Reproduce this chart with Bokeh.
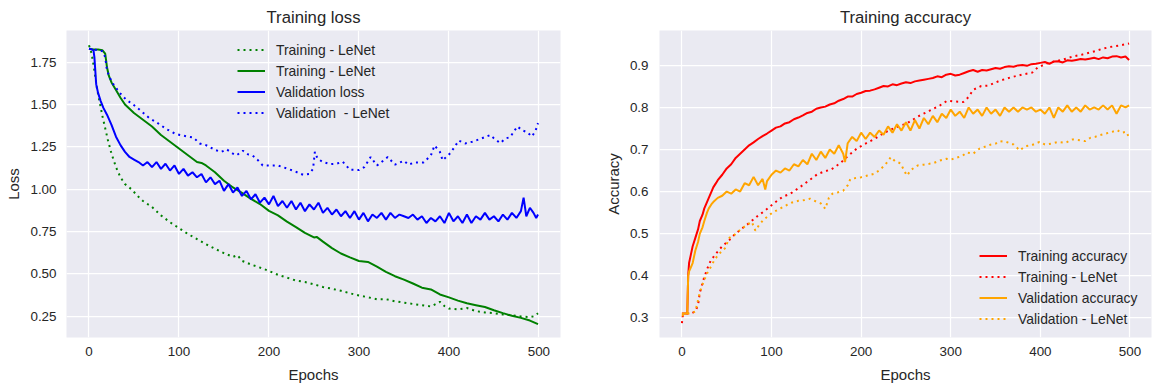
from bokeh.plotting import figure
from bokeh.layouts import row
from bokeh.models import Legend, LegendItem, Range1d, FixedTicker, PrintfTickFormatter
from bokeh.embed import file_html
from bokeh.resources import INLINE

# ---------------- data ----------------
# Left panel: loss
train_lenet_loss_ep = [0, 3, 6, 9, 12, 15, 18, 21, 25, 30, 35, 40, 47, 55, 60, 70, 80, 90, 100, 110, 120, 130,
                       140, 150, 160, 165, 170, 180, 190, 200, 210, 220, 230, 240, 250, 260, 270, 280, 290, 300,
                       310, 320, 330, 340, 350, 360, 370, 380, 390, 395, 400, 410, 420, 430, 440, 450, 460, 470,
                       480, 490, 495, 499]
train_lenet_loss = [1.85, 1.80, 1.70, 1.59, 1.51, 1.43, 1.36, 1.29, 1.21, 1.13, 1.07, 1.03, 1.00, 0.955, 0.93,
                    0.895, 0.845, 0.805, 0.77, 0.735, 0.705, 0.675, 0.648, 0.622, 0.60, 0.61, 0.577, 0.555, 0.537,
                    0.517, 0.494, 0.478, 0.46, 0.452, 0.438, 0.422, 0.412, 0.40, 0.385, 0.372, 0.362, 0.35, 0.35,
                    0.338, 0.33, 0.322, 0.315, 0.307, 0.335, 0.31, 0.295, 0.29, 0.298, 0.28, 0.272, 0.268, 0.26,
                    0.255, 0.248, 0.244, 0.25, 0.267]

train_loss_ep = [0, 5, 10, 15, 18, 20, 22, 25, 30, 35, 40, 50, 60, 70, 80, 90, 100, 110, 120, 125, 130, 140, 150,
                 160, 170, 180, 190, 200, 210, 220, 230, 240, 250, 253, 260, 270, 280, 290, 300, 310, 320, 330,
                 340, 350, 360, 370, 380, 390, 400, 410, 420, 430, 440, 450, 460, 470, 480, 490, 499]
train_loss = [1.83, 1.825, 1.825, 1.82, 1.80, 1.72, 1.67, 1.63, 1.585, 1.54, 1.50, 1.45, 1.41, 1.37, 1.32, 1.28,
              1.24, 1.20, 1.16, 1.155, 1.14, 1.10, 1.05, 1.01, 0.978, 0.943, 0.912, 0.872, 0.845, 0.808, 0.776,
              0.742, 0.715, 0.718, 0.69, 0.652, 0.62, 0.597, 0.576, 0.57, 0.542, 0.512, 0.486, 0.466, 0.443,
              0.418, 0.408, 0.378, 0.361, 0.342, 0.326, 0.315, 0.304, 0.285, 0.268, 0.252, 0.24, 0.224, 0.203]

val_loss_ep = [0, 3, 5, 6, 7, 8, 10, 13, 16, 20, 25, 30, 35, 40, 45, 50, 55, 60, 65, 70, 75, 80, 85, 90, 95, 100,
               105, 110, 115, 120, 125, 130, 135, 140, 145, 150, 155, 160, 165, 170, 175, 180, 185, 190, 195, 200,
               205, 210, 215, 220, 225, 230, 235, 240, 245, 250, 255, 260, 265, 270, 275, 280, 285, 290, 295, 300,
               305, 310, 315, 320, 325, 330, 335, 340, 345, 350, 355, 360, 365, 370, 375, 380, 385, 390, 395, 400,
               405, 410, 415, 420, 425, 430, 435, 440, 445, 450, 455, 460, 465, 470, 475, 480, 483, 486, 490, 494,
               497, 499]
val_loss = [1.83, 1.825, 1.82, 1.78, 1.70, 1.62, 1.57, 1.52, 1.48, 1.44, 1.38, 1.31, 1.26, 1.22, 1.19, 1.175,
            1.16, 1.14, 1.16, 1.13, 1.16, 1.12, 1.15, 1.11, 1.14, 1.09, 1.12, 1.08, 1.10, 1.07, 1.09, 1.04, 1.07,
            1.03, 1.05, 0.99, 1.03, 0.98, 1.01, 0.96, 0.99, 0.94, 0.97, 0.92, 0.95, 0.91, 0.96, 0.90, 0.93, 0.89,
            0.93, 0.88, 0.92, 0.87, 0.91, 0.88, 0.92, 0.86, 0.89, 0.85, 0.88, 0.84, 0.87, 0.83, 0.87, 0.82, 0.86,
            0.81, 0.85, 0.83, 0.86, 0.82, 0.86, 0.83, 0.85, 0.84, 0.83, 0.85, 0.82, 0.84, 0.80, 0.83, 0.81, 0.84,
            0.80, 0.86, 0.81, 0.84, 0.80, 0.85, 0.80, 0.84, 0.82, 0.86, 0.82, 0.84, 0.81, 0.85, 0.82, 0.86, 0.83,
            0.87, 0.95, 0.84, 0.89, 0.86, 0.83, 0.85]

val_lenet_loss_ep = [0, 5, 10, 15, 18, 20, 23, 27, 34, 41, 49, 56, 67, 75, 86, 95, 101, 110, 116, 123, 130, 141,
                     147, 153, 160, 164, 171, 177, 182, 188, 193, 204, 210, 216, 227, 238, 245, 249, 251, 254, 260,
                     268, 275, 282, 290, 300, 306, 313, 320, 325, 332, 340, 350, 355, 362, 372, 380, 384, 390, 393,
                     402, 411, 418, 426, 435, 446, 450, 457, 463, 468, 476, 482, 487, 492, 496, 499]
val_lenet_loss = [1.83, 1.825, 1.82, 1.815, 1.78, 1.70, 1.66, 1.62, 1.57, 1.53, 1.50, 1.47, 1.42, 1.395, 1.355,
                  1.33, 1.32, 1.31, 1.305, 1.27, 1.26, 1.23, 1.22, 1.235, 1.21, 1.20, 1.227, 1.205, 1.198, 1.17,
                  1.14, 1.139, 1.14, 1.129, 1.109, 1.085, 1.09, 1.12, 1.22, 1.18, 1.16, 1.148, 1.15, 1.162, 1.115,
                  1.113, 1.13, 1.19, 1.14, 1.16, 1.19, 1.145, 1.168, 1.145, 1.158, 1.158, 1.20, 1.258, 1.22, 1.17,
                  1.215, 1.287, 1.27, 1.28, 1.297, 1.32, 1.30, 1.272, 1.30, 1.307, 1.37, 1.346, 1.337, 1.311,
                  1.34, 1.39]

# Right panel: accuracy
train_acc_ep = [0, 3, 6, 7, 8, 10, 12, 15, 18, 20, 23, 25, 28, 30, 33, 35, 38, 40, 45, 50, 55, 60, 65, 70, 75, 80,
                85, 90, 95, 100, 105, 110, 115, 120, 125, 130, 135, 140, 145, 150, 155, 160, 165, 170, 175, 180,
                185, 190, 195, 200, 205, 210, 215, 220, 225, 230, 235, 240, 245, 250, 255, 260, 265, 270, 275, 280,
                285, 290, 295, 300, 305, 310, 315, 320, 325, 330, 335, 340, 345, 350, 355, 360, 365, 370, 375, 380,
                385, 390, 395, 400, 405, 410, 415, 420, 425, 430, 435, 440, 445, 450, 455, 460, 465, 470, 475, 480,
                485, 490, 495, 499]
train_acc = [0.31, 0.31, 0.31, 0.40, 0.43, 0.45, 0.47, 0.49, 0.51, 0.53, 0.545, 0.56, 0.575, 0.585, 0.60, 0.61,
             0.62, 0.627, 0.64, 0.655, 0.665, 0.68, 0.69, 0.70, 0.71, 0.717, 0.725, 0.732, 0.738, 0.745, 0.752,
             0.755, 0.762, 0.765, 0.772, 0.776, 0.781, 0.787, 0.79, 0.797, 0.80, 0.802, 0.807, 0.81, 0.816, 0.82,
             0.826, 0.826, 0.832, 0.835, 0.839, 0.84, 0.843, 0.847, 0.851, 0.85, 0.855, 0.853, 0.857, 0.86, 0.858,
             0.862, 0.864, 0.866, 0.868, 0.87, 0.874, 0.872, 0.878, 0.88, 0.876, 0.878, 0.882, 0.886, 0.889, 0.885,
             0.889, 0.888, 0.891, 0.894, 0.892, 0.896, 0.898, 0.897, 0.90, 0.901, 0.899, 0.903, 0.904, 0.906, 0.908,
             0.904, 0.909, 0.91, 0.907, 0.912, 0.911, 0.913, 0.915, 0.914, 0.916, 0.918, 0.915, 0.919, 0.917, 0.921,
             0.922, 0.919, 0.921, 0.913]

train_lenet_acc_ep = [0, 1, 5, 10, 15, 18, 20, 24, 28, 32, 37, 45, 53, 58, 65, 75, 85, 93, 102, 112, 121, 132, 141,
                      151, 158, 167, 177, 186, 195, 203, 214, 226, 238, 251, 263, 276, 288, 296, 305, 314, 320, 325,
                      334, 342, 354, 366, 379, 391, 397, 410, 424, 436, 447, 458, 470, 481, 490, 499]
train_lenet_acc = [0.287, 0.305, 0.31, 0.31, 0.315, 0.33, 0.36, 0.39, 0.415, 0.435, 0.45, 0.47, 0.485, 0.496,
                   0.509, 0.525, 0.543, 0.555, 0.571, 0.587, 0.595, 0.611, 0.625, 0.641, 0.647, 0.653, 0.668,
                   0.686, 0.702, 0.712, 0.724, 0.74, 0.752, 0.762, 0.778, 0.792, 0.805, 0.816, 0.814, 0.813, 0.825,
                   0.842, 0.851, 0.852, 0.863, 0.871, 0.878, 0.883, 0.895, 0.907, 0.913, 0.921, 0.926, 0.932, 0.94,
                   0.945, 0.948, 0.952]

val_acc_ep = [0, 3, 6, 7, 8, 10, 12, 15, 18, 20, 23, 25, 28, 30, 33, 35, 40, 45, 50, 55, 60, 65, 70, 75, 80, 85, 90,
              93, 95, 100, 105, 110, 115, 120, 125, 130, 135, 140, 145, 150, 155, 160, 165, 170, 175, 180, 182, 185,
              190, 195, 200, 205, 210, 215, 220, 225, 230, 235, 240, 245, 250, 255, 260, 265, 270, 275, 280, 285,
              290, 295, 300, 305, 310, 315, 320, 325, 330, 335, 340, 345, 350, 355, 360, 365, 370, 375, 380, 385,
              390, 395, 400, 405, 410, 415, 420, 425, 430, 435, 440, 445, 450, 455, 460, 465, 470, 475, 480, 485,
              490, 495, 499]
val_acc = [0.31, 0.31, 0.31, 0.40, 0.41, 0.42, 0.43, 0.46, 0.48, 0.50, 0.515, 0.53, 0.55, 0.56, 0.57, 0.575, 0.585,
           0.59, 0.60, 0.595, 0.605, 0.60, 0.62, 0.615, 0.635, 0.615, 0.63, 0.605, 0.625, 0.64, 0.65, 0.645, 0.655,
           0.65, 0.665, 0.66, 0.675, 0.665, 0.69, 0.675, 0.695, 0.68, 0.70, 0.69, 0.71, 0.69, 0.67, 0.715, 0.73,
           0.72, 0.74, 0.725, 0.74, 0.73, 0.745, 0.735, 0.755, 0.74, 0.76, 0.745, 0.765, 0.745, 0.77, 0.75, 0.775,
           0.76, 0.78, 0.765, 0.785, 0.775, 0.795, 0.78, 0.79, 0.775, 0.80, 0.785, 0.795, 0.78, 0.80, 0.785, 0.795,
           0.78, 0.80, 0.79, 0.80, 0.79, 0.80, 0.795, 0.80, 0.79, 0.795, 0.785, 0.80, 0.775, 0.80, 0.79, 0.805,
           0.79, 0.80, 0.79, 0.805, 0.795, 0.80, 0.795, 0.805, 0.795, 0.805, 0.785, 0.805, 0.80, 0.805]

val_lenet_acc_ep = [0, 5, 10, 15, 17, 20, 24, 28, 32, 37, 43, 48, 53, 58, 65, 72, 78, 82, 86, 91, 98, 102, 110, 117,
                    123, 130, 137, 143, 150, 155, 160, 164, 168, 174, 180, 185, 188, 194, 200, 207, 214, 220, 225,
                    230, 233, 238, 244, 248, 251, 256, 263, 270, 276, 281, 288, 295, 300, 306, 313, 318, 325, 332,
                    340, 345, 350, 355, 362, 370, 377, 383, 390, 399, 405, 412, 420, 428, 436, 444, 450, 456, 461,
                    466, 473, 480, 486, 490, 496, 499]
val_lenet_acc = [0.305, 0.31, 0.31, 0.315, 0.333, 0.36, 0.385, 0.405, 0.42, 0.44, 0.455, 0.465, 0.49, 0.496, 0.509,
                 0.52, 0.528, 0.507, 0.52, 0.533, 0.545, 0.551, 0.56, 0.568, 0.574, 0.578, 0.58, 0.583, 0.576, 0.572,
                 0.559, 0.585, 0.595, 0.598, 0.602, 0.615, 0.63, 0.632, 0.634, 0.638, 0.642, 0.65, 0.66, 0.672,
                 0.682, 0.672, 0.667, 0.65, 0.638, 0.652, 0.662, 0.664, 0.666, 0.668, 0.674, 0.678, 0.676, 0.68,
                 0.685, 0.693, 0.69, 0.702, 0.708, 0.712, 0.714, 0.72, 0.718, 0.712, 0.698, 0.708, 0.71, 0.718,
                 0.712, 0.714, 0.718, 0.716, 0.724, 0.722, 0.72, 0.728, 0.73, 0.734, 0.738, 0.742, 0.746, 0.74,
                 0.742, 0.728]

x_ticks = [0, 100, 200, 300, 400, 500]
loss_ticks = [0.25, 0.5, 0.75, 1.0, 1.25, 1.5, 1.75]
acc_ticks = [0.3, 0.4, 0.5, 0.6, 0.7, 0.8, 0.9]

# ---------------- styling ----------------
FONT = "Liberation Sans"
TXT = "#262626"
BG = "#EAEAF2"
LW = 2
DOT = "2 4"
H = 391


def make_fig(title, width, left, right, yr, yticks, yfmt, ylabel):
    p = figure(width=width, height=H, output_backend="svg", toolbar_location=None,
               x_range=Range1d(-25, 524), y_range=Range1d(*yr),
               min_border_left=left, min_border_right=right, min_border_top=30, min_border_bottom=H - 337)
    p.background_fill_color = BG
    p.border_fill_color = "white"
    p.outline_line_color = None
    p.title.text = title
    p.title.align = "center"
    p.title.text_font = FONT
    p.title.text_font_size = "16.7px"
    p.title.text_font_style = "normal"
    p.title.text_color = TXT
    p.title.standoff = 8
    p.xaxis.ticker = FixedTicker(ticks=x_ticks)
    p.yaxis.ticker = FixedTicker(ticks=yticks)
    p.xaxis.formatter = PrintfTickFormatter(format="%d")
    p.yaxis.formatter = PrintfTickFormatter(format=yfmt)
    p.xaxis.axis_label = "Epochs"
    p.yaxis.axis_label = ylabel
    for ax in p.axis:
        ax.axis_line_color = None
        ax.major_tick_line_color = None
        ax.minor_tick_line_color = None
        ax.major_tick_out = 0
        ax.major_tick_in = 0
        ax.major_label_text_font = FONT
        ax.major_label_text_font_size = "13.4px"
        ax.major_label_text_color = TXT
        ax.axis_label_text_font = FONT
        ax.axis_label_text_font_size = "15px"
        ax.axis_label_text_font_style = "normal"
        ax.axis_label_text_color = TXT
    p.xaxis.major_label_standoff = 9
    p.xaxis.axis_label_standoff = 7
    p.yaxis.major_label_standoff = 10
    p.yaxis.axis_label_standoff = 5
    p.grid.grid_line_color = "white"
    p.grid.grid_line_width = 1.25
    return p


def make_legend(items, loc):
    lg = Legend(items=items, location=loc)
    lg.background_fill_alpha = 0
    lg.border_line_alpha = 0
    lg.padding = 0
    lg.margin = 0
    lg.spacing = 0
    lg.label_height = 21
    lg.glyph_height = 21
    lg.glyph_width = 28
    lg.label_standoff = 11
    lg.label_text_font = FONT
    lg.label_text_font_size = "13.9px"
    lg.label_text_color = TXT
    return lg


# ---------------- left: loss ----------------
p1 = make_fig("Training loss", 600, 66, 40, (0.124, 1.937), loss_ticks, "%.2f", "Loss")
r1 = p1.line(train_lenet_loss_ep, train_lenet_loss, color="green", line_width=LW, line_dash=DOT)
r2 = p1.line(train_loss_ep, train_loss, color="green", line_width=LW)
r3 = p1.line(val_loss_ep, val_loss, color="blue", line_width=LW)
r4 = p1.line(val_lenet_loss_ep, val_lenet_loss, color="blue", line_width=LW, line_dash=DOT)
p1.add_layout(make_legend([
    LegendItem(label="Training - LeNet", renderers=[r1]),
    LegendItem(label="Training - LeNet", renderers=[r2]),
    LegendItem(label="Validation loss", renderers=[r3]),
    LegendItem(label="Validation  - LeNet", renderers=[r4]),
], (171, 214)))

# ---------------- right: accuracy ----------------
p2 = make_fig("Training accuracy", 561, 59, 10, (0.253, 0.983), acc_ticks, "%.1f", "Accuracy")
p2.yaxis.major_label_standoff = 11
s1 = p2.line(train_acc_ep, train_acc, color="red", line_width=LW)
s2 = p2.line(train_lenet_acc_ep, train_lenet_acc, color="red", line_width=LW, line_dash=DOT)
s3 = p2.line(val_acc_ep, val_acc, color="orange", line_width=LW)
s4 = p2.line(val_lenet_acc_ep, val_lenet_acc, color="orange", line_width=LW, line_dash=DOT)
p2.add_layout(make_legend([
    LegendItem(label="Training accuracy", renderers=[s1]),
    LegendItem(label="Training - LeNet", renderers=[s2]),
    LegendItem(label="Validation accuracy", renderers=[s3]),
    LegendItem(label="Validation - LeNet", renderers=[s4]),
], (320, 8)))

layout = row(p1, p2, spacing=0)
open("out.html", "w").write(file_html(layout, INLINE))
